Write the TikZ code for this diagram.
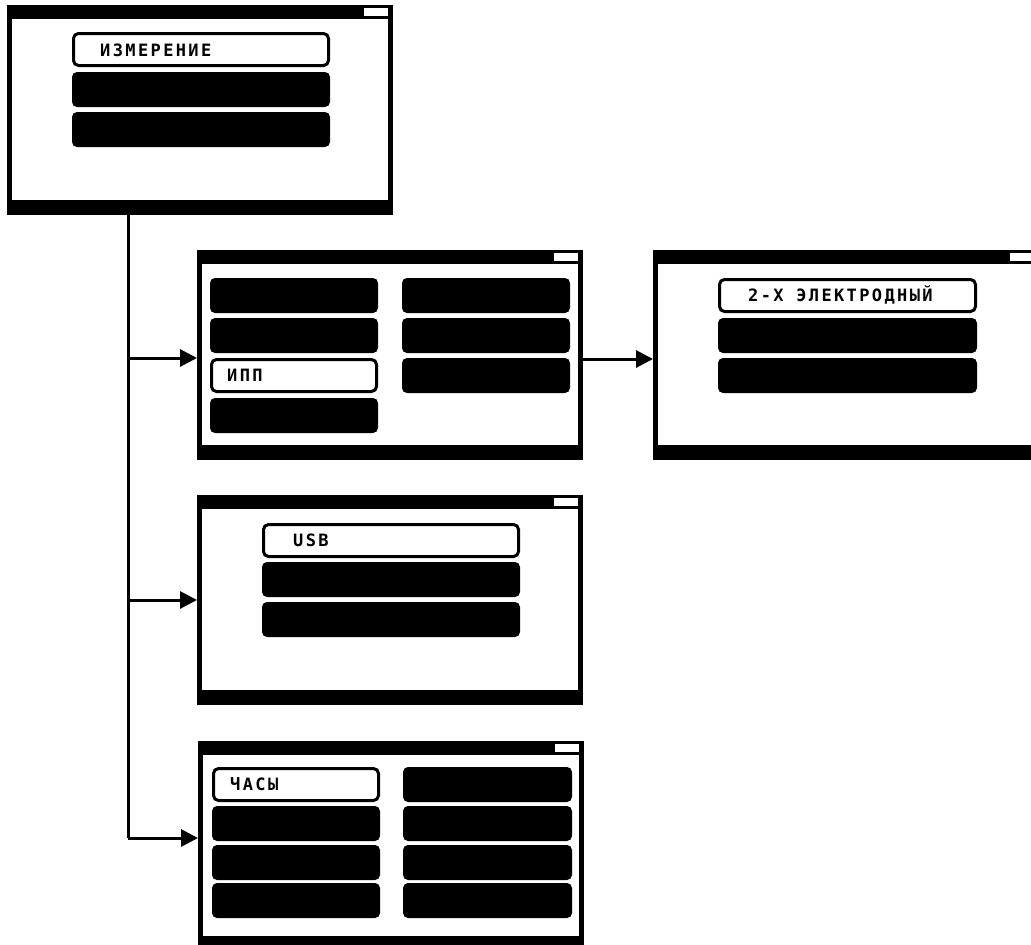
\documentclass[tikz,border=0pt]{standalone}
\usepackage{fontspec}
\newfontfamily\lcd[LetterSpace=14]{DejaVu Sans Mono Bold}
\usetikzlibrary{arrows.meta}
\tikzset{
  screen/.style={fill=black, draw=none, minimum width=386pt, minimum height=210pt, inner sep=0pt, outer sep=0pt, anchor=north west},
  scrinner/.style={fill=white},
  batt/.style={fill=white},
  btn/.style={fill=black, draw=none, rounded corners=5pt, inner sep=0pt, outer sep=0pt, minimum height=35pt, anchor=north west},
  selbtn/.style={fill=white, draw=black, line width=3pt, rounded corners=5pt, inner sep=0pt, outer sep=0pt, minimum height=32pt, anchor=north west},
  lbl/.style={font=\lcd\fontsize{17}{17}\selectfont, anchor=base west, inner sep=0pt},
  link/.style={line width=3pt, -{Triangle[length=17pt,width=17pt]}},
  trunkline/.style={line width=3pt},
}
\newcommand{\screenframe}[1]{%
  \node[screen] (#1) at (0,0) {};
  \fill[scrinner] (5,14) rectangle (381,195);
  \fill[batt] (357,3) rectangle (381,11);
}
\begin{document}
\begin{tikzpicture}[x=1pt,y=-1pt]
\useasboundingbox (0,0) rectangle (1031,945);

% Screen 1
\begin{scope}[shift={(7,5)}]
  \screenframe{s1}
  \node[selbtn, minimum width=255pt] (s1b1) at (66.5,28.5) {};
  \node[btn, minimum width=258pt] (s1b2) at (65,67) {};
  \node[btn, minimum width=258pt] (s1b3) at (65,107) {};
  \node[lbl] (s1t) at (93,51) {ИЗМЕРЕНИЕ};
\end{scope}

% Screen 2
\begin{scope}[shift={(197,250)}]
  \screenframe{s2}
  \node[btn, minimum width=168pt] (s2l1) at (13,28) {};
  \node[btn, minimum width=168pt] (s2l2) at (13,68) {};
  \node[selbtn, minimum width=165pt] (s2l3) at (14.5,109.5) {};
  \node[btn, minimum width=168pt] (s2l4) at (13,148) {};
  \node[btn, minimum width=168pt] (s2r1) at (205,28) {};
  \node[btn, minimum width=168pt] (s2r2) at (205,68) {};
  \node[btn, minimum width=168pt] (s2r3) at (205,108) {};
  \node[lbl] (s2t) at (30,131.5) {ИПП};
\end{scope}

% Screen 3
\begin{scope}[shift={(653,250)}]
  \screenframe{s3}
  \node[selbtn, minimum width=256pt] (s3b1) at (66.5,29.5) {};
  \node[btn, minimum width=259pt] (s3b2) at (65,68) {};
  \node[btn, minimum width=259pt] (s3b3) at (65,108) {};
  \node[lbl] (s3t) at (95,51.5) {2-Х ЭЛЕКТРОДНЫЙ};
\end{scope}

% Screen 4
\begin{scope}[shift={(197,495)}]
  \screenframe{s4}
  \node[selbtn, minimum width=255pt] (s4b1) at (66.5,29.5) {};
  \node[btn, minimum width=258pt] (s4b2) at (65,67) {};
  \node[btn, minimum width=258pt] (s4b3) at (65,107) {};
  \node[lbl] (s4t) at (96,51.5) {USB};
\end{scope}

% Screen 5
\begin{scope}[shift={(198,741)}]
  \screenframe{s5}
  \node[selbtn, minimum width=165pt] (s5l1) at (15.5,27.5) {};
  \node[btn, minimum width=168pt] (s5l2) at (14,65) {};
  \node[btn, minimum width=168pt] (s5l3) at (14,104) {};
  \node[btn, minimum width=168pt] (s5l4) at (14,142) {};
  \node[btn, minimum width=169pt] (s5r1) at (205,26) {};
  \node[btn, minimum width=169pt] (s5r2) at (205,65) {};
  \node[btn, minimum width=169pt] (s5r3) at (205,104) {};
  \node[btn, minimum width=169pt] (s5r4) at (205,142) {};
  \node[lbl] (s5t) at (32,49.5) {ЧАСЫ};
\end{scope}

% Connectors
\coordinate (trunk) at (128,214);
\coordinate (a2) at ([yshift=-3pt]s2.west);
\coordinate (a4) at (s4.west);
\coordinate (a5) at ([yshift=8pt]s5.west);
\coordinate (a3) at ([yshift=-4pt]s3.west);
\draw[trunkline] (trunk) -- (a5 -| trunk);
\draw[link] (a2 -| trunk) -- (a2);
\draw[link] (a4 -| trunk) -- (a4);
\draw[link] (a5 -| trunk) -- (a5);
\draw[link] (a3 -| s2.east) -- (a3);
\end{tikzpicture}
\end{document}
